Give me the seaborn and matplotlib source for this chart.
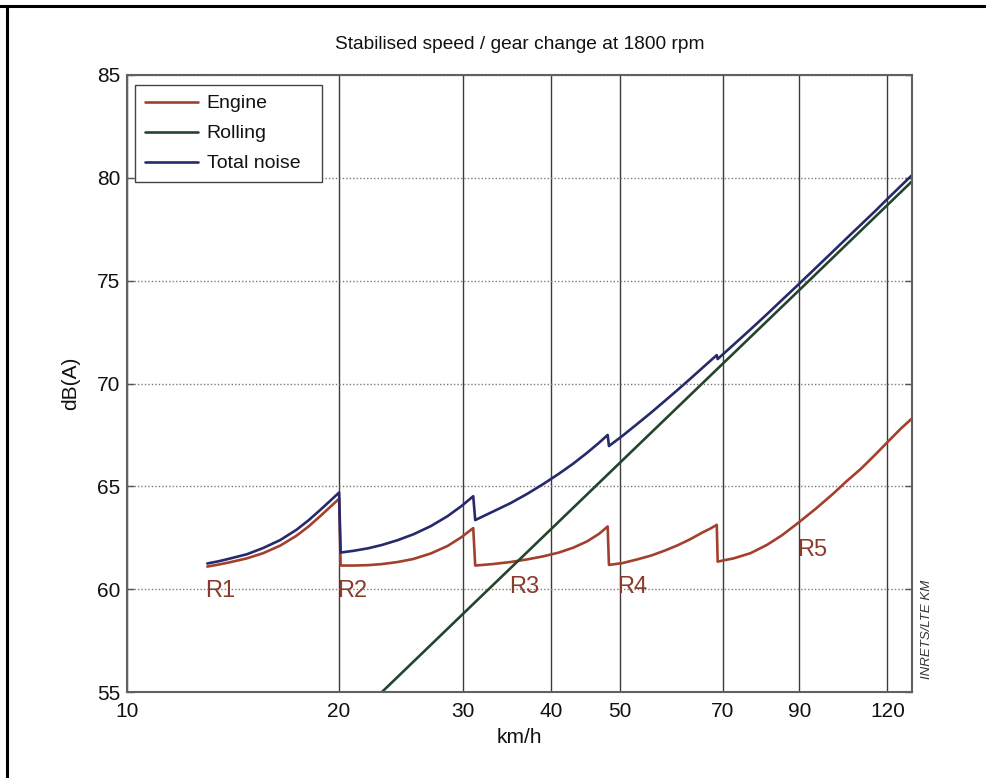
import matplotlib
matplotlib.use("Agg")
import matplotlib.pyplot as plt
from matplotlib.lines import Line2D
from matplotlib.ticker import FixedLocator, FixedFormatter, NullLocator
import pandas as pd
import seaborn as sns

# Speeds (km/h) for the engine and total traces, gear by gear R1..R5
speed_kmh = [13.0, 13.5, 14.0, 14.8, 15.6, 16.5, 17.4, 18.1, 18.8, 19.4, 20.0,
             20.1, 21.0, 22.0, 23.0, 24.2, 25.5, 27.0, 28.5, 29.8, 31.0,
             31.2, 33.0, 35.0, 37.0, 39.0, 41.0, 43.0, 45.0, 46.8, 48.1,
             48.3, 50.5, 53.0, 55.5, 58.0, 60.5, 63.0, 65.5, 67.3, 68.7,
             68.9, 72.6, 76.7, 81.0, 85.0, 89.3, 95.0, 100.7, 105.0, 110.0,
             115.0, 119.7, 125.3, 130.0]
engine_db = [61.10, 61.20, 61.31, 61.50, 61.75, 62.12, 62.60, 63.05, 63.55, 63.98, 64.40,
             61.15, 61.15, 61.17, 61.22, 61.32, 61.47, 61.74, 62.10, 62.52, 62.97,
             61.15, 61.22, 61.32, 61.45, 61.60, 61.78, 62.02, 62.33, 62.70, 63.05,
             61.18, 61.27, 61.45, 61.64, 61.88, 62.14, 62.43, 62.75, 62.95, 63.13,
             61.34, 61.50, 61.75, 62.16, 62.62, 63.18, 63.92, 64.67, 65.25, 65.85,
             66.50, 67.11, 67.80, 68.30]
total_db = [61.25, 61.36, 61.49, 61.70, 62.00, 62.39, 62.89, 63.35, 63.85, 64.28, 64.70,
            61.78, 61.87, 61.99, 62.15, 62.38, 62.67, 63.07, 63.55, 64.03, 64.52,
            63.36, 63.76, 64.18, 64.64, 65.12, 65.61, 66.11, 66.64, 67.13, 67.50,
            66.96, 67.46, 68.04, 68.60, 69.16, 69.70, 70.23, 70.75, 71.11, 71.38,
            71.19, 71.89, 72.63, 73.38, 74.06, 74.75, 75.63, 76.46, 77.06, 77.72,
            78.35, 78.94, 79.60, 80.13]

# Rolling (tyre/road) noise
rolling_speed_kmh = [22.0, 30.0, 40.0, 50.0, 70.0, 90.0, 130.0]
rolling_db = [54.36, 58.81, 62.93, 66.13, 70.95, 74.55, 79.83]

series_names = ["Engine", "Rolling", "Total noise"]
series_colors = ["#a3402c", "#24452c", "#262a6a"]

# Gear labels
gear_labels = ["R1", "R2", "R3", "R4", "R5"]
gear_label_kmh = [12.9, 19.9, 34.8, 49.6, 89.3]
gear_label_db = [59.62, 59.64, 59.80, 59.80, 61.62]

x_ticks = [10, 20, 30, 40, 50, 70, 90, 120]
x_tick_labels = ["10", "20", "30", "40", "50", "70", "90", "120"]
y_ticks = [55, 60, 65, 70, 75, 80, 85]

df = pd.concat([
    pd.DataFrame({"speed": speed_kmh, "level": engine_db, "source": "Engine"}),
    pd.DataFrame({"speed": rolling_speed_kmh, "level": rolling_db, "source": "Rolling"}),
    pd.DataFrame({"speed": speed_kmh, "level": total_db, "source": "Total noise"}),
], ignore_index=True)

sns.set_theme(style="white")
plt.rcParams["font.family"] = ["Liberation Sans", "DejaVu Sans"]

fig = plt.figure(figsize=(9.86, 7.78), dpi=100)
ax = fig.add_axes([0.1288, 0.1105, 0.7961, 0.7931])

palette = dict(zip(series_names, series_colors))
sns.lineplot(data=df, x="speed", y="level", hue="source", hue_order=series_names,
             palette=palette, estimator=None, sort=False, linewidth=1.9,
             legend=False, ax=ax)

ax.set_xscale("log")
ax.set_xlim(10, 130)
ax.set_ylim(55, 85)
ax.xaxis.set_major_locator(FixedLocator(x_ticks))
ax.xaxis.set_major_formatter(FixedFormatter(x_tick_labels))
ax.xaxis.set_minor_locator(NullLocator())
ax.set_yticks(y_ticks)

ax.set_axisbelow(True)
ax.grid(axis="x", color="#3c3c3c", linewidth=1.0, linestyle="-")
ax.grid(axis="y", color="#7c7c7c", linewidth=1.0, linestyle=(0, (1, 1.5)))

ax.tick_params(axis="y", direction="in", length=5, width=1, color="#555555",
               left=True, right=True, labelsize=15, pad=5, labelcolor="#111111")
ax.tick_params(axis="x", length=0, labelsize=15, pad=7, labelcolor="#111111")
for sp in ax.spines.values():
    sp.set_color("#606060")
    sp.set_linewidth(1.5)

ax.set_xlabel("km/h", fontsize=15, color="#111111")
ax.set_ylabel("dB(A)", fontsize=15, color="#111111")
ax.xaxis.set_label_coords(0.5, -0.058)
ax.yaxis.set_label_coords(-0.06, 0.5)

for lab, xs, ys in zip(gear_labels, gear_label_kmh, gear_label_db):
    ax.text(xs, ys, lab, fontsize=17, color="#8a3b2c", ha="left", va="baseline")

handles = [Line2D([], [], color=c, linewidth=1.9) for c in series_colors]
leg = ax.legend(handles, series_names, loc="upper left",
                bbox_to_anchor=(0.0102, 0.80, 0.2382, 0.1838), mode="expand",
                borderaxespad=0, fontsize=14, handlelength=2.73, handletextpad=0.46,
                labelspacing=0.64, borderpad=0.5, fancybox=False, framealpha=1)
leg.get_frame().set_edgecolor("#444444")
leg.get_frame().set_linewidth(1.0)
for t in leg.get_texts():
    t.set_color("#111111")

fig.text(0.527, 0.943, "Stabilised speed / gear change at 1800 rpm",
         fontsize=13.8, ha="center", va="center", color="#111111")

fig.text(927 / 986, 1 - 629 / 778, "INRETS/LTE KM", rotation=90, fontsize=9.5,
         style="italic", color="#333333", ha="center", va="center")

# page frame edges
fig.add_artist(Line2D([0, 1], [1 - 6 / 778, 1 - 6 / 778], transform=fig.transFigure,
                      color="black", linewidth=2.2))
fig.add_artist(Line2D([7 / 986, 7 / 986], [0, 1 - 6 / 778], transform=fig.transFigure,
                      color="black", linewidth=2.2))

fig.savefig("out.png", dpi=100)
